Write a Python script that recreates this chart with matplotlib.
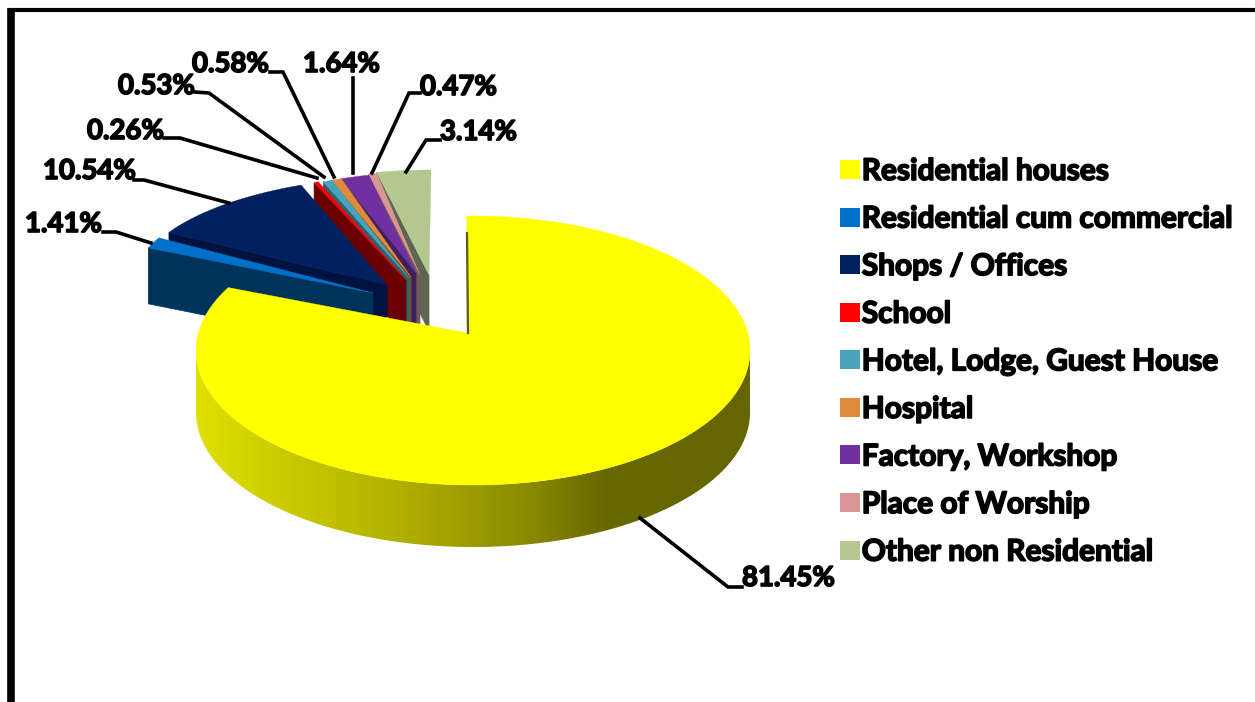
"""Exploded 3D pie of building use shares, drawn on a pixel-sized axes."""

import numpy as np
import matplotlib.pyplot as plt
from matplotlib.colors import LinearSegmentedColormap
from matplotlib.patches import Patch, Polygon
import matplotlib.patheffects as pe

plt.rcParams["font.family"] = ["Lato", "DejaVu Sans"]

categories = ["Residential houses", "Residential cum commercial", "Shops / Offices",
              "School", "Hotel, Lodge, Guest House", "Hospital", "Factory, Workshop",
              "Place of Worship", "Other non Residential"]
shares = [81.45, 1.41, 10.54, 0.26, 0.53, 0.58, 1.64, 0.47, 3.14]
share_labels = ["81.45%", "1.41%", "10.54%", "0.26%", "0.53%", "0.58%", "1.64%", "0.47%", "3.14%"]

top_colors = ["#ffff00", "#0070c8", "#002060", "#ff0000", "#4aa3bd", "#e08a3c", "#7030a0", "#d99694", "#b3c78f"]
wall_colors = ["#666600", "#00335a", "#001240", "#6b0000", "#2b6274", "#7a5020", "#3c1f60", "#6e5a5a", "#5d6650"]

RX = 277
RY = [134.5, 125, 107, 125, 125, 125, 125, 125, 125]
DEPTH = 62
# ellipse centre and wedge tip of each slice, in image pixels
centers = [(473, 350.5), (403, 297), (413, 283), (426, 297), (431, 297), (431, 297), (431, 297), (431, 296), (431, 295)]
tips = [(467, 333), (373, 293), (387, 285), (406, 280), (409, 278), (411, 277), (416, 273), (420, 275), (429, 275)]
# leader line and label anchor per slice
leaders = [[(640, 518), (728, 587), (742, 587)],
           [(103, 232), (116, 232), (151, 243)],
           [(134, 180), (144, 180), (229, 203)],
           [(164, 138), (180, 138), (317, 178)],
           [(195, 92), (209, 93), (324, 177)],
           [(270, 72), (283, 72), (334, 177)],
           [(353, 78), (353, 173)],
           [(420, 93), (409, 93), (372, 173)],
           [(440, 140), (426, 140), (406, 172)]]
label_xy = [(742, 578), (25, 224), (43, 171), (87, 131), (118, 86), (192, 64), (303, 64), (420, 87), (440, 132)]

fig = plt.figure(figsize=(12.55, 7.02), dpi=100)
ax = fig.add_axes([0, 0, 1, 1])


def rim(theta_deg, center, ry):
    t = np.radians(theta_deg)
    return np.column_stack([center[0] + RX * np.sin(t), center[1] - ry * np.cos(t)])


edges = np.concatenate([[0], np.cumsum(shares)]) / np.sum(shares) * 360

# the small exploded slices go back to front, the big slice comes last
for i in range(len(shares) - 1, 0, -1):
    arc = rim(np.linspace(edges[i], edges[i + 1], 30), centers[i], RY[i])
    tip = np.array(tips[i])
    wall = np.array([tip, arc[0], arc[0] + [0, 56], tip + [0, 56]])
    ax.add_patch(Polygon(wall, closed=True, fc=wall_colors[i], ec=wall_colors[i], lw=0.5))
    ax.add_patch(Polygon(np.vstack([tip, arc]), closed=True, fc=top_colors[i], ec=top_colors[i], lw=0.3))

# big slice: side with a left to right shading, then the top face
front = rim(np.linspace(90, 270, 200), centers[0], RY[0])
side = np.vstack([front, (front + [0, DEPTH])[::-1]])
side_patch = Polygon(side, closed=True, fc="none", ec="none")
ax.add_patch(side_patch)
shade = LinearSegmentedColormap.from_list("shade", [(0, "#e0e000"), (0.15, "#cccc00"), (0.37, "#b0b000"),
                                                    (0.59, "#8c8c00"), (0.74, "#686800"), (1, "#666600")])
img = ax.imshow(np.linspace(0, 1, 256).reshape(1, -1), cmap=shade, extent=(196, 750, 560, 340), aspect="auto")
img.set_clip_path(side_patch)

ax.plot([467, 468], [233, 333], color="#5a5a20", lw=1.6)
scale = (297.9 + 1.3) / edges[1]
arc = rim(-1.3 + np.linspace(edges[0], edges[1], 300) * scale, centers[0], RY[0])
ax.add_patch(Polygon(np.vstack([tips[0], arc]), closed=True, fc=top_colors[0], ec=top_colors[0], lw=0.3))

bold = [pe.withStroke(linewidth=1.2, foreground="black")]
for pts, (x, y), label in zip(leaders, label_xy, share_labels):
    xs, ys = zip(*pts)
    ax.plot(xs, ys, color="black", lw=2.6, solid_joinstyle="miter")
    ax.text(x, y, label, fontsize=19.8, fontweight="bold", va="center", ha="left", color="black", path_effects=bold)

handles = [Patch(fc=c, ec="none") for c in top_colors]
leg = ax.legend(handles, categories, loc="upper left", bbox_to_anchor=(831, 148), bbox_transform=ax.transData,
                frameon=False, fontsize=21.5, handlelength=0.68, handleheight=0.6, handletextpad=0.05,
                labelspacing=0.656, borderpad=0.3, borderaxespad=0)
for t in leg.get_texts():
    t.set_fontweight("bold")
    t.set_path_effects(bold)

# picture frame
ax.plot([10.5, 10.5], [702, 8], color="black", lw=5.5, solid_capstyle="butt")
ax.plot([8, 1255], [9.5, 9.5], color="black", lw=3, solid_capstyle="butt")

ax.set_xlim(0, 1255)
ax.set_ylim(702, 0)
ax.axis("off")

fig.savefig("out.png", dpi=100, facecolor="white")
